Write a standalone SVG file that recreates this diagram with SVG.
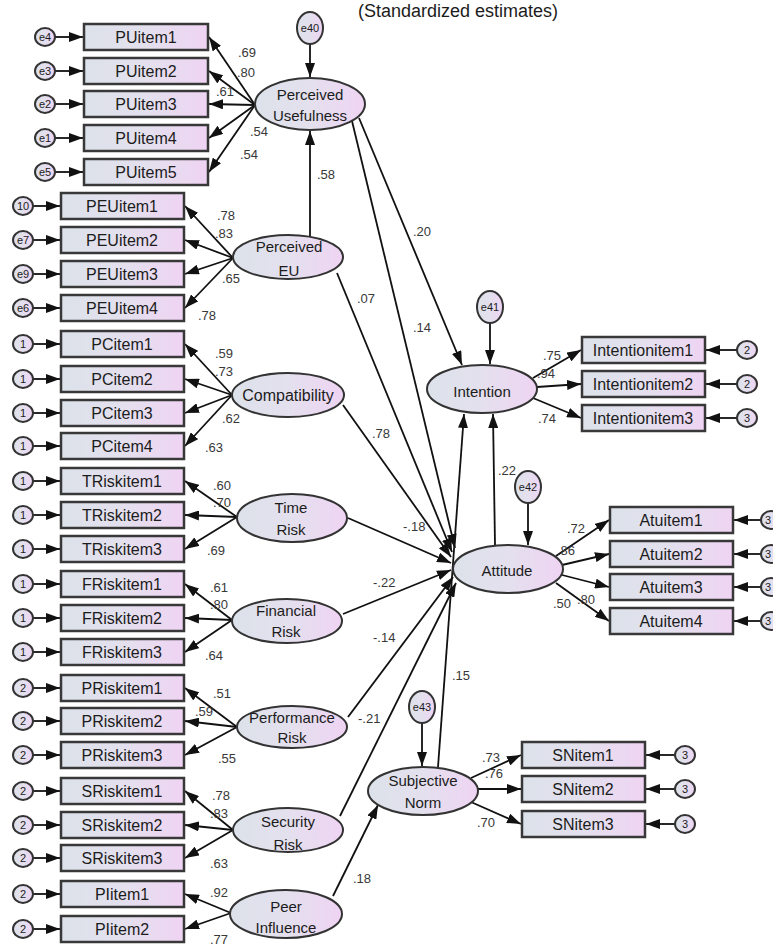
<svg xmlns="http://www.w3.org/2000/svg" width="773" height="947" viewBox="0 0 773 947">
<defs>
<linearGradient id="g" x1="0" y1="0" x2="1" y2="0">
<stop offset="0" stop-color="#dce2ea"/><stop offset="0.5" stop-color="#e4e0ee"/><stop offset="1" stop-color="#efd4f3"/>
</linearGradient>
<marker id="ah" viewBox="0 0 14 10" refX="14" refY="5" markerWidth="14" markerHeight="10" orient="auto" markerUnits="userSpaceOnUse">
<path d="M0,0 L14,5 L0,10 z" fill="#111"/>
</marker>
<style>
.box{fill:url(#g);stroke:#383838;stroke-width:2.5}
.lat{fill:url(#g);stroke:#333;stroke-width:2}
.err{fill:url(#g);stroke:#333;stroke-width:2}
text{font-family:"Liberation Sans",Arial,sans-serif;fill:#1c1c1c}
.t{font-size:16px;text-anchor:middle}
.lt{font-size:15px;text-anchor:middle}
.n{font-size:13px;fill:#383838}
.e{font-size:11px;text-anchor:middle}
.c{stroke:#111;stroke-width:1.8;fill:none;marker-end:url(#ah)}
</style>
</defs>
<rect width="773" height="947" fill="#fff"/>
<text x="458" y="17" style="font-size:18px;text-anchor:middle">(Standardized estimates)</text>

<g id="connectors">
<line class="c" x1="255" y1="105" x2="209" y2="37"/>
<line class="c" x1="255" y1="105" x2="209" y2="71"/>
<line class="c" x1="255" y1="105" x2="209" y2="104"/>
<line class="c" x1="255" y1="105" x2="209" y2="138"/>
<line class="c" x1="255" y1="105" x2="209" y2="172"/>
<line class="c" x1="55" y1="37" x2="83" y2="37"/>
<line class="c" x1="55" y1="71" x2="83" y2="71"/>
<line class="c" x1="55" y1="104" x2="83" y2="104"/>
<line class="c" x1="55" y1="138" x2="83" y2="138"/>
<line class="c" x1="55" y1="172" x2="83" y2="172"/>
<line class="c" x1="233" y1="258" x2="185" y2="206"/>
<line class="c" x1="233" y1="258" x2="185" y2="240"/>
<line class="c" x1="233" y1="258" x2="185" y2="274"/>
<line class="c" x1="233" y1="258" x2="185" y2="308"/>
<line class="c" x1="232" y1="395" x2="185" y2="344"/>
<line class="c" x1="232" y1="395" x2="185" y2="379"/>
<line class="c" x1="232" y1="395" x2="185" y2="413"/>
<line class="c" x1="232" y1="395" x2="185" y2="446"/>
<line class="c" x1="237" y1="517" x2="185" y2="481"/>
<line class="c" x1="237" y1="517" x2="185" y2="515"/>
<line class="c" x1="237" y1="517" x2="185" y2="549"/>
<line class="c" x1="232" y1="620" x2="185" y2="584"/>
<line class="c" x1="232" y1="620" x2="185" y2="618"/>
<line class="c" x1="232" y1="620" x2="185" y2="652"/>
<line class="c" x1="237" y1="727" x2="185" y2="688"/>
<line class="c" x1="237" y1="727" x2="185" y2="721"/>
<line class="c" x1="237" y1="727" x2="185" y2="755"/>
<line class="c" x1="233" y1="830" x2="185" y2="791"/>
<line class="c" x1="233" y1="830" x2="185" y2="825"/>
<line class="c" x1="233" y1="830" x2="185" y2="858"/>
<line class="c" x1="231" y1="913" x2="185" y2="894"/>
<line class="c" x1="231" y1="913" x2="185" y2="929"/>
<line class="c" x1="33" y1="206" x2="60" y2="206"/>
<line class="c" x1="33" y1="240" x2="60" y2="240"/>
<line class="c" x1="33" y1="274" x2="60" y2="274"/>
<line class="c" x1="33" y1="308" x2="60" y2="308"/>
<line class="c" x1="33" y1="344" x2="60" y2="344"/>
<line class="c" x1="33" y1="379" x2="60" y2="379"/>
<line class="c" x1="33" y1="413" x2="60" y2="413"/>
<line class="c" x1="33" y1="446" x2="60" y2="446"/>
<line class="c" x1="33" y1="481" x2="60" y2="481"/>
<line class="c" x1="33" y1="515" x2="60" y2="515"/>
<line class="c" x1="33" y1="549" x2="60" y2="549"/>
<line class="c" x1="33" y1="584" x2="60" y2="584"/>
<line class="c" x1="33" y1="618" x2="60" y2="618"/>
<line class="c" x1="33" y1="652" x2="60" y2="652"/>
<line class="c" x1="33" y1="688" x2="60" y2="688"/>
<line class="c" x1="33" y1="721" x2="60" y2="721"/>
<line class="c" x1="33" y1="755" x2="60" y2="755"/>
<line class="c" x1="33" y1="791" x2="60" y2="791"/>
<line class="c" x1="33" y1="825" x2="60" y2="825"/>
<line class="c" x1="33" y1="858" x2="60" y2="858"/>
<line class="c" x1="33" y1="894" x2="60" y2="894"/>
<line class="c" x1="33" y1="929" x2="60" y2="929"/>
<line class="c" x1="310" y1="44" x2="310" y2="77"/>
<line class="c" x1="310" y1="236" x2="310" y2="131"/>
<line class="c" x1="359" y1="118" x2="462" y2="365"/>
<line class="c" x1="352" y1="121" x2="455" y2="548"/>
<line class="c" x1="337" y1="273" x2="452" y2="552"/>
<line class="c" x1="343" y1="405" x2="451" y2="557"/>
<line class="c" x1="348" y1="518" x2="451" y2="563"/>
<line class="c" x1="343" y1="614" x2="451" y2="570"/>
<line class="c" x1="348" y1="717" x2="453" y2="577"/>
<line class="c" x1="340" y1="816" x2="456" y2="583"/>
<line class="c" x1="438" y1="767" x2="464" y2="414"/>
<line class="c" x1="495" y1="545" x2="493" y2="414"/>
<line class="c" x1="333" y1="896" x2="378" y2="805"/>
<line class="c" x1="490" y1="323" x2="490" y2="364"/>
<line class="c" x1="528" y1="503" x2="528" y2="545"/>
<line class="c" x1="422" y1="723" x2="422" y2="766"/>
<line class="c" x1="533" y1="378" x2="581" y2="350"/>
<line class="c" x1="537" y1="387" x2="581" y2="384"/>
<line class="c" x1="533" y1="398" x2="581" y2="418"/>
<line class="c" x1="737" y1="350" x2="706" y2="350"/>
<line class="c" x1="737" y1="384" x2="706" y2="384"/>
<line class="c" x1="737" y1="418" x2="706" y2="418"/>
<line class="c" x1="556" y1="556" x2="609" y2="520"/>
<line class="c" x1="562" y1="565" x2="609" y2="554"/>
<line class="c" x1="562" y1="575" x2="609" y2="587"/>
<line class="c" x1="556" y1="583" x2="609" y2="621"/>
<line class="c" x1="761" y1="520" x2="734" y2="520"/>
<line class="c" x1="761" y1="554" x2="734" y2="554"/>
<line class="c" x1="761" y1="587" x2="734" y2="587"/>
<line class="c" x1="761" y1="621" x2="734" y2="621"/>
<line class="c" x1="471" y1="778" x2="521" y2="755"/>
<line class="c" x1="478" y1="789" x2="521" y2="789"/>
<line class="c" x1="471" y1="802" x2="521" y2="824"/>
<line class="c" x1="675" y1="755" x2="646" y2="755"/>
<line class="c" x1="675" y1="789" x2="646" y2="789"/>
<line class="c" x1="675" y1="824" x2="646" y2="824"/>
</g>

<g id="labels">
<text class="n" x="238" y="57">.69</text>
<text class="n" x="237" y="77">.80</text>
<text class="n" x="216" y="96">.61</text>
<text class="n" x="250" y="136">.54</text>
<text class="n" x="240" y="159">.54</text>
<text class="n" x="317" y="179">.58</text>
<text class="n" x="217" y="220">.78</text>
<text class="n" x="215" y="238">.83</text>
<text class="n" x="222" y="283">.65</text>
<text class="n" x="198" y="320">.78</text>
<text class="n" x="357" y="303">.07</text>
<text class="n" x="215" y="358">.59</text>
<text class="n" x="215" y="376">.73</text>
<text class="n" x="222" y="423">.62</text>
<text class="n" x="205" y="452">.63</text>
<text class="n" x="372" y="438">.78</text>
<text class="n" x="213" y="490">.60</text>
<text class="n" x="213" y="507">.70</text>
<text class="n" x="207" y="555">.69</text>
<text class="n" x="403" y="531">-.18</text>
<text class="n" x="210" y="592">.61</text>
<text class="n" x="210" y="609">.80</text>
<text class="n" x="205" y="660">.64</text>
<text class="n" x="373" y="587">-.22</text>
<text class="n" x="213" y="698">.51</text>
<text class="n" x="195" y="716">.59</text>
<text class="n" x="218" y="763">.55</text>
<text class="n" x="373" y="642">-.14</text>
<text class="n" x="358" y="723">-.21</text>
<text class="n" x="212" y="800">.78</text>
<text class="n" x="210" y="818">.83</text>
<text class="n" x="210" y="868">.63</text>
<text class="n" x="210" y="897">.92</text>
<text class="n" x="210" y="944">.77</text>
<text class="n" x="353" y="883">.18</text>
<text class="n" x="413" y="236">.20</text>
<text class="n" x="413" y="332">.14</text>
<text class="n" x="452" y="680">.15</text>
<text class="n" x="498" y="475">.22</text>
<text class="n" x="543" y="360">.75</text>
<text class="n" x="537" y="378">.94</text>
<text class="n" x="538" y="423">.74</text>
<text class="n" x="567" y="533">.72</text>
<text class="n" x="557" y="555">.86</text>
<text class="n" x="553" y="608">.50</text>
<text class="n" x="577" y="604">.80</text>
<text class="n" x="482" y="762">.73</text>
<text class="n" x="485" y="778">.76</text>
<text class="n" x="477" y="827">.70</text>
</g>

<g id="PU">
<ellipse class="lat" cx="310" cy="104" rx="55" ry="26"/>
<text class="lt" x="310" y="100">Perceived</text><text class="lt" x="310" y="121">Usefulness</text>
</g>
<g id="e40"><ellipse class="err" cx="310" cy="28" rx="13" ry="16"/><text class="e" x="310" y="32">e40</text></g>
<g id="PEU">
<ellipse class="lat" cx="288" cy="257" rx="55" ry="22"/>
<text class="lt" x="289" y="252">Perceived</text><text class="lt" x="289" y="276">EU</text>
</g>
<g id="Compatibility">
<ellipse class="lat" cx="288" cy="395" rx="56" ry="22"/>
<text class="t" x="288" y="401">Compatibility</text>
</g>
<g id="TimeRisk">
<ellipse class="lat" cx="292" cy="518" rx="55" ry="24"/>
<text class="lt" x="291" y="513">Time</text><text class="lt" x="291" y="535">Risk</text>
</g>
<g id="FinancialRisk">
<ellipse class="lat" cx="287" cy="621" rx="55" ry="22"/>
<text class="lt" x="286" y="616">Financial</text><text class="lt" x="286" y="637">Risk</text>
</g>
<g id="PerformanceRisk">
<ellipse class="lat" cx="292" cy="727" rx="55" ry="21"/>
<text class="lt" x="292" y="723">Performance</text><text class="lt" x="292" y="743">Risk</text>
</g>
<g id="SecurityRisk">
<ellipse class="lat" cx="288" cy="830" rx="55" ry="22"/>
<text class="lt" x="288" y="827">Security</text><text class="lt" x="288" y="850">Risk</text>
</g>
<g id="PeerInfluence">
<ellipse class="lat" cx="286" cy="914" rx="56" ry="24"/>
<text class="lt" x="286" y="912">Peer</text><text class="lt" x="286" y="933">Influence</text>
</g>
<g id="Intention">
<ellipse class="lat" cx="482" cy="389" rx="55" ry="24"/>
<text class="lt" x="482" y="397">Intention</text>
</g>
<g id="e41"><ellipse class="err" cx="490" cy="307" rx="13" ry="16"/><text class="e" x="490" y="311">e41</text></g>
<g id="Attitude">
<ellipse class="lat" cx="508" cy="569" rx="55" ry="24"/>
<text class="lt" x="507" y="576">Attitude</text>
</g>
<g id="e42"><ellipse class="err" cx="528" cy="487" rx="13" ry="16"/><text class="e" x="528" y="491">e42</text></g>
<g id="SubjectiveNorm">
<ellipse class="lat" cx="423" cy="791" rx="55" ry="24"/>
<text class="lt" x="423" y="786">Subjective</text><text class="lt" x="423" y="808">Norm</text>
</g>
<g id="e43"><ellipse class="err" cx="422" cy="707" rx="13" ry="16"/><text class="e" x="422" y="711">e43</text></g>

<g id="PUitems">
<rect class="box" x="84" y="24" width="124" height="26"/><text class="t" x="146" y="43">PUitem1</text>
<rect class="box" x="84" y="58" width="124" height="26"/><text class="t" x="146" y="77">PUitem2</text>
<rect class="box" x="84" y="91" width="124" height="26"/><text class="t" x="146" y="110">PUitem3</text>
<rect class="box" x="84" y="125" width="124" height="26"/><text class="t" x="146" y="144">PUitem4</text>
<rect class="box" x="84" y="159" width="124" height="26"/><text class="t" x="146" y="178">PUitem5</text>
<ellipse class="err" cx="45" cy="37" rx="10" ry="9"/><text class="e" x="45" y="41">e4</text>
<ellipse class="err" cx="45" cy="71" rx="10" ry="9"/><text class="e" x="45" y="75">e3</text>
<ellipse class="err" cx="45" cy="104" rx="10" ry="9"/><text class="e" x="45" y="108">e2</text>
<ellipse class="err" cx="45" cy="138" rx="10" ry="9"/><text class="e" x="45" y="142">e1</text>
<ellipse class="err" cx="45" cy="172" rx="10" ry="9"/><text class="e" x="45" y="176">e5</text>
</g>
<g id="PEUitems">
<rect class="box" x="61" y="193" width="123" height="26"/><text class="t" x="122" y="212">PEUitem1</text>
<rect class="box" x="61" y="227" width="123" height="26"/><text class="t" x="122" y="246">PEUitem2</text>
<rect class="box" x="61" y="261" width="123" height="26"/><text class="t" x="122" y="280">PEUitem3</text>
<rect class="box" x="61" y="295" width="123" height="26"/><text class="t" x="122" y="314">PEUitem4</text>
<ellipse class="err" cx="23" cy="206" rx="10" ry="9"/><text class="e" x="23" y="210">10</text>
<ellipse class="err" cx="23" cy="240" rx="10" ry="9"/><text class="e" x="23" y="244">e7</text>
<ellipse class="err" cx="23" cy="274" rx="10" ry="9"/><text class="e" x="23" y="278">e9</text>
<ellipse class="err" cx="23" cy="308" rx="10" ry="9"/><text class="e" x="23" y="312">e6</text>
</g>
<g id="PCitems">
<rect class="box" x="61" y="331" width="123" height="26"/><text class="t" x="122" y="350">PCitem1</text>
<rect class="box" x="61" y="366" width="123" height="26"/><text class="t" x="122" y="385">PCitem2</text>
<rect class="box" x="61" y="400" width="123" height="26"/><text class="t" x="122" y="419">PCitem3</text>
<rect class="box" x="61" y="433" width="123" height="26"/><text class="t" x="122" y="452">PCitem4</text>
<ellipse class="err" cx="23" cy="344" rx="10" ry="9"/><text class="e" x="23" y="348">1</text>
<ellipse class="err" cx="23" cy="379" rx="10" ry="9"/><text class="e" x="23" y="383">1</text>
<ellipse class="err" cx="23" cy="413" rx="10" ry="9"/><text class="e" x="23" y="417">1</text>
<ellipse class="err" cx="23" cy="446" rx="10" ry="9"/><text class="e" x="23" y="450">1</text>
</g>
<g id="TRitems">
<rect class="box" x="61" y="468" width="123" height="26"/><text class="t" x="122" y="487">TRiskitem1</text>
<rect class="box" x="61" y="502" width="123" height="26"/><text class="t" x="122" y="521">TRiskitem2</text>
<rect class="box" x="61" y="536" width="123" height="26"/><text class="t" x="122" y="555">TRiskitem3</text>
<ellipse class="err" cx="23" cy="481" rx="10" ry="9"/><text class="e" x="23" y="485">1</text>
<ellipse class="err" cx="23" cy="515" rx="10" ry="9"/><text class="e" x="23" y="519">1</text>
<ellipse class="err" cx="23" cy="549" rx="10" ry="9"/><text class="e" x="23" y="553">1</text>
</g>
<g id="FRitems">
<rect class="box" x="61" y="571" width="123" height="26"/><text class="t" x="122" y="590">FRiskitem1</text>
<rect class="box" x="61" y="605" width="123" height="26"/><text class="t" x="122" y="624">FRiskitem2</text>
<rect class="box" x="61" y="639" width="123" height="26"/><text class="t" x="122" y="658">FRiskitem3</text>
<ellipse class="err" cx="23" cy="584" rx="10" ry="9"/><text class="e" x="23" y="588">1</text>
<ellipse class="err" cx="23" cy="618" rx="10" ry="9"/><text class="e" x="23" y="622">1</text>
<ellipse class="err" cx="23" cy="652" rx="10" ry="9"/><text class="e" x="23" y="656">1</text>
</g>
<g id="PRitems">
<rect class="box" x="61" y="675" width="123" height="26"/><text class="t" x="122" y="694">PRiskitem1</text>
<rect class="box" x="61" y="708" width="123" height="26"/><text class="t" x="122" y="727">PRiskitem2</text>
<rect class="box" x="61" y="742" width="123" height="26"/><text class="t" x="122" y="761">PRiskitem3</text>
<ellipse class="err" cx="23" cy="688" rx="10" ry="9"/><text class="e" x="23" y="692">2</text>
<ellipse class="err" cx="23" cy="721" rx="10" ry="9"/><text class="e" x="23" y="725">2</text>
<ellipse class="err" cx="23" cy="755" rx="10" ry="9"/><text class="e" x="23" y="759">2</text>
</g>
<g id="SRitems">
<rect class="box" x="61" y="778" width="123" height="26"/><text class="t" x="122" y="797">SRiskitem1</text>
<rect class="box" x="61" y="812" width="123" height="26"/><text class="t" x="122" y="831">SRiskitem2</text>
<rect class="box" x="61" y="845" width="123" height="26"/><text class="t" x="122" y="864">SRiskitem3</text>
<ellipse class="err" cx="23" cy="791" rx="10" ry="9"/><text class="e" x="23" y="795">2</text>
<ellipse class="err" cx="23" cy="825" rx="10" ry="9"/><text class="e" x="23" y="829">2</text>
<ellipse class="err" cx="23" cy="858" rx="10" ry="9"/><text class="e" x="23" y="862">2</text>
</g>
<g id="PIitems">
<rect class="box" x="61" y="881" width="123" height="26"/><text class="t" x="122" y="900">PIitem1</text>
<rect class="box" x="61" y="916" width="123" height="26"/><text class="t" x="122" y="935">PIitem2</text>
<ellipse class="err" cx="23" cy="894" rx="10" ry="9"/><text class="e" x="23" y="898">2</text>
<ellipse class="err" cx="23" cy="929" rx="10" ry="9"/><text class="e" x="23" y="933">2</text>
</g>
<g id="Intentionitems">
<rect class="box" x="582" y="337" width="123" height="26"/><text class="t" x="643" y="356">Intentionitem1</text>
<rect class="box" x="582" y="371" width="123" height="26"/><text class="t" x="643" y="390">Intentionitem2</text>
<rect class="box" x="582" y="405" width="123" height="26"/><text class="t" x="643" y="424">Intentionitem3</text>
<ellipse class="err" cx="747" cy="350" rx="10" ry="9"/><text class="e" x="747" y="354">2</text>
<ellipse class="err" cx="747" cy="384" rx="10" ry="9"/><text class="e" x="747" y="388">2</text>
<ellipse class="err" cx="747" cy="418" rx="10" ry="9"/><text class="e" x="747" y="422">3</text>
</g>
<g id="Attitudeitems">
<rect class="box" x="610" y="507" width="123" height="26"/><text class="t" x="671" y="526">Atuitem1</text>
<rect class="box" x="610" y="541" width="123" height="26"/><text class="t" x="671" y="560">Atuitem2</text>
<rect class="box" x="610" y="574" width="123" height="26"/><text class="t" x="671" y="593">Atuitem3</text>
<rect class="box" x="610" y="608" width="123" height="26"/><text class="t" x="671" y="627">Atuitem4</text>
<ellipse class="err" cx="771" cy="520" rx="10" ry="9"/><text class="e" x="768" y="524">3</text>
<ellipse class="err" cx="771" cy="554" rx="10" ry="9"/><text class="e" x="768" y="558">3</text>
<ellipse class="err" cx="771" cy="587" rx="10" ry="9"/><text class="e" x="768" y="591">3</text>
<ellipse class="err" cx="771" cy="621" rx="10" ry="9"/><text class="e" x="768" y="625">3</text>
</g>
<g id="SNitems">
<rect class="box" x="522" y="742" width="123" height="26"/><text class="t" x="583" y="761">SNitem1</text>
<rect class="box" x="522" y="776" width="123" height="26"/><text class="t" x="583" y="795">SNitem2</text>
<rect class="box" x="522" y="811" width="123" height="26"/><text class="t" x="583" y="830">SNitem3</text>
<ellipse class="err" cx="685" cy="755" rx="10" ry="9"/><text class="e" x="685" y="759">3</text>
<ellipse class="err" cx="685" cy="789" rx="10" ry="9"/><text class="e" x="685" y="793">3</text>
<ellipse class="err" cx="685" cy="824" rx="10" ry="9"/><text class="e" x="685" y="828">3</text>
</g>
</svg>
